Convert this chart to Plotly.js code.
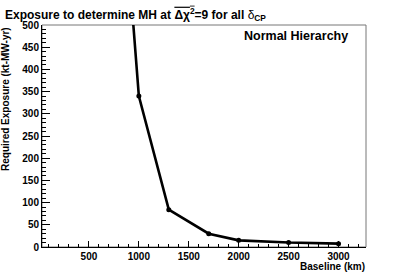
<!DOCTYPE html>
<html><head><meta charset="utf-8">
<script src="https://cdn.plot.ly/plotly-3.0.1.min.js"></script>
<style>html,body{margin:0;padding:0;background:#fff}#c{width:407px;height:276px}</style>
</head><body><div id="c"></div>
<script>
var baseline = [900, 1000, 1300, 1700, 2000, 2500, 3000];
var exposure = [630, 340, 84, 30, 15, 10, 7.5];
var xTickVals = [500, 1000, 1500, 2000, 2500, 3000];
var yTickVals = [0, 50, 100, 150, 200, 250, 300, 350, 400, 450, 500];

var F = 'Liberation Sans, Arial, sans-serif';
var trace = {
  x: baseline, y: exposure, type: 'scatter', mode: 'lines+markers',
  line: {color: '#000', width: 2.6},
  marker: {color: '#000', size: 5},
  cliponaxis: true
};
var layout = {
  width: 407, height: 276,
  margin: {l: 42, r: 41, t: 25, b: 29},
  paper_bgcolor: '#fff', plot_bgcolor: '#fff',
  showlegend: false,
  title: {
    text: 'Exposure to determine MH at <span style="text-decoration:overline">Δχ<sup>2</sup></span>=9 for all <span style="font-weight:normal">δ</span><sub>CP</sub>',
    font: {family: F, size: 12, weight: 'bold', color: '#000'},
    xref: 'container', yref: 'container', x: 5/407, xanchor: 'left', y: 1 - 14.5/276, yanchor: 'middle'
  },
  xaxis: {
    range: [30, 3275], showgrid: false, zeroline: false,
    showline: true, linecolor: '#000', linewidth: 1,
    tickmode: 'array', tickvals: xTickVals, ticktext: xTickVals.map(String),
    ticks: 'inside', ticklen: 6, tickcolor: '#000', tickwidth: 1,
    minor: {dtick: 100, tick0: 0, ticks: 'inside', ticklen: 3, tickcolor: '#000', showgrid: false},
    tickfont: {family: F, size: 10, weight: 'bold', color: '#000'}
  },
  yaxis: {
    range: [0, 500], showgrid: false, zeroline: false,
    showline: true, linecolor: '#000', linewidth: 1,
    tickmode: 'array', tickvals: yTickVals, ticktext: yTickVals.map(String),
    ticks: 'inside', ticklen: 8, tickcolor: '#000', tickwidth: 1,
    minor: {dtick: 10, tick0: 0, ticks: 'inside', ticklen: 4, tickcolor: '#000', showgrid: false},
    tickfont: {family: F, size: 10, weight: 'bold', color: '#000'}
  },
  shapes: [{type: 'rect', xref: 'paper', yref: 'paper', x0: 0, x1: 1, y0: 0, y1: 1,
    line: {color: '#777', width: 1}, layer: 'below'}],
  annotations: [
    {text: 'Normal Hierarchy', xref: 'paper', yref: 'paper', x: 0.952, y: 0.95,
     xanchor: 'right', yanchor: 'middle', showarrow: false,
     font: {family: F, size: 12.5, weight: 'bold', color: '#000'}},
    {text: 'Baseline (km)', xref: 'paper', yref: 'paper', x: 1.003, y: -0.055,
     xanchor: 'right', yanchor: 'top', showarrow: false,
     font: {family: F, size: 10, weight: 'bold', color: '#000'}},
    {text: 'Required Exposure (kt-MW-yr)', xref: 'paper', yref: 'paper', x: -37/324, y: 1.0,
     xanchor: 'center', yanchor: 'top', textangle: -90, showarrow: false,
     font: {family: F, size: 10, weight: 'bold', color: '#000'}}
  ]
};
Plotly.newPlot('c', [trace], layout, {displayModeBar: false, staticPlot: true});
</script></body></html>
